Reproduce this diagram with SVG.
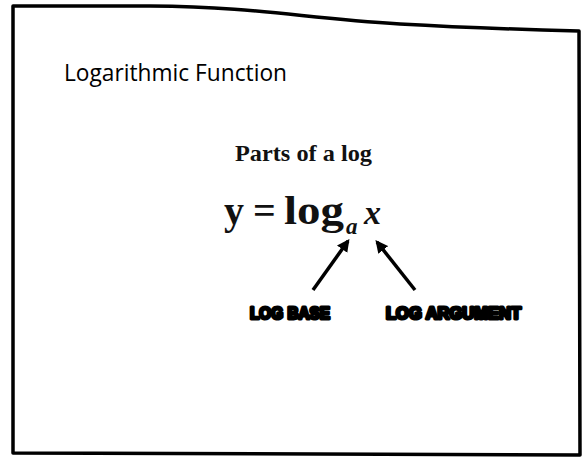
<svg xmlns="http://www.w3.org/2000/svg" width="584" height="457" viewBox="0 0 584 457">
<defs>
<style>
.frame{fill:none;stroke:#000;stroke-width:3.5;stroke-linejoin:round}
.title{font-family:"Open Sans","Liberation Sans",sans-serif;font-size:24px;fill:#000}
.serif{font-family:"Liberation Serif","DejaVu Serif",serif;font-weight:bold;fill:#111}
.lbl{font-family:"Liberation Sans","DejaVu Sans",sans-serif;font-weight:900;font-size:16px;fill:#000;stroke:#000;stroke-width:3;stroke-linejoin:round}
.arrow{stroke:#000;stroke-width:3.5;fill:none}
</style>
<marker id="ah" viewBox="0 0 10 10" refX="8" refY="5" markerWidth="3.6" markerHeight="3.6" orient="auto">
<path d="M0,0 L10,5 L0,10 Z" fill="#000"/>
</marker>
</defs>
<rect width="584" height="457" fill="#fff"/>
<path class="frame" d="M13,453 L13,6 L150,6 C260,7 300,18 400,24 C470,28 540,30 579,31 L580,455 L13,453 Z"/>
<g id="title"><text class="title" x="64" y="81" textLength="223" lengthAdjust="spacingAndGlyphs">Logarithmic Function</text></g>
<g id="heading"><text class="serif" x="235" y="161" font-size="23" textLength="137" lengthAdjust="spacingAndGlyphs">Parts of a log</text></g>
<g id="equation">
<text class="serif" x="224" y="224" font-size="40">y</text>
<text class="serif" x="253" y="224" font-size="40">=</text>
<text class="serif" x="284" y="224" font-size="40" textLength="60" lengthAdjust="spacingAndGlyphs">log</text>
<text class="serif" x="346" y="234" font-size="23" font-style="italic">a</text>
<text class="serif" x="364" y="224" font-size="34" font-style="italic">x</text>
</g>
<g id="label-base"><text class="lbl" x="250" y="319" textLength="80" lengthAdjust="spacingAndGlyphs">LOG BASE</text></g>
<g id="label-argument"><text class="lbl" x="386" y="319" textLength="135" lengthAdjust="spacingAndGlyphs">LOG ARGUMENT</text></g>
<g id="connectors">
<line class="arrow" x1="313" y1="290" x2="348" y2="241" marker-end="url(#ah)"/>
<line class="arrow" x1="415" y1="290" x2="377" y2="242" marker-end="url(#ah)"/>
</g>
</svg>
